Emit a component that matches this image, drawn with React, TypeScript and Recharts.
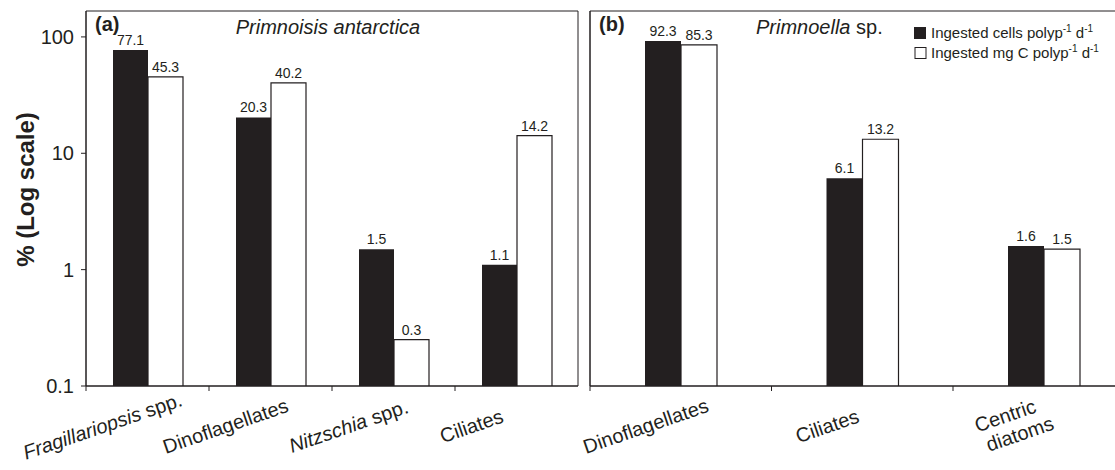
import { Bar, BarChart, LabelList, ReferenceArea, XAxis, YAxis } from "recharts";

const taxaA = ["Fragillariopsis spp.", "Dinoflagellates", "Nitzschia spp.", "Ciliates"];
const cellsA = [77.1, 20.3, 1.5, 1.1];
const carbonA = [45.3, 40.2, 0.25, 14.2];
const carbonLabelsA = ["45.3", "40.2", "0.3", "14.2"];

const taxaB = ["Dinoflagellates", "Ciliates", "Centric diatoms"];
const cellsB = [92.3, 6.1, 1.6];
const carbonB = [85.3, 13.2, 1.5];

const logTicks = [0.1, 1, 10, 100];
const yMax = 167;

const dataA = taxaA.map((taxon, i) => ({ taxon, cells: cellsA[i], carbon: carbonA[i], carbonLabel: carbonLabelsA[i] }));
const dataB = taxaB.map((taxon, i) => ({ taxon, cells: cellsB[i], carbon: carbonB[i], carbonLabel: String(carbonB[i]) }));

const FONT = "Arial, 'Liberation Sans', Helvetica, sans-serif";
const INK = "#231f20";

type TickProps = {
  x?: number;
  y?: number;
  payload?: { value: string };
  band: number;
  shift: number;
};

function TaxonName({ name }: { name: string }) {
  if (name.endsWith(" spp.")) {
    return (
      <>
        <tspan fontStyle="italic">{name.replace(" spp.", "")}</tspan>
        <tspan> spp.</tspan>
      </>
    );
  }
  return <>{name}</>;
}

function TaxonTick({ x = 0, y = 0, payload, band, shift }: TickProps) {
  const name = String(payload?.value ?? "");
  const edge = x - band / 2;
  const twoLines = name.includes("diatoms");
  return (
    <g>
      <line x1={edge} x2={edge} y1={y} y2={y + 5} stroke={INK} strokeWidth={1} />
      <g transform={`translate(${x + shift},${y + 40}) rotate(-19)`}>
        <text x={0} y={0} textAnchor="middle" fontSize={20} fill={INK} fontFamily={FONT}>
          {twoLines ? (
            <>
              <tspan x={0} dy="-0.2em">{name.split(" ")[0]}</tspan>
              <tspan x={8} dy="1.1em">{name.split(" ")[1]}</tspan>
            </>
          ) : (
            <tspan dy="0.35em">
              <TaxonName name={name} />
            </tspan>
          )}
        </text>
      </g>
    </g>
  );
}

const valueLabel = { position: "top" as const, offset: 5, fontSize: 14, fill: INK, fontFamily: FONT };

function YTitle({ viewBox }: any) {
  const cy = viewBox.y + viewBox.height / 2 - 9;
  return (
    <text
      transform={`translate(25,${cy}) rotate(-90)`}
      textAnchor="middle"
      dominantBaseline="central"
      fontSize={24}
      fontWeight="bold"
      fill={INK}
      fontFamily={FONT}
    >
      % (Log scale)
    </text>
  );
}

export default function App() {
  return (
    <div style={{ position: "absolute", left: 0, top: 0, width: 1115, height: 470, overflow: "hidden", background: "#fff" }}>
      <div style={{ position: "absolute", left: 0, top: 0 }}>
        <BarChart width={580} height={470} data={dataA} barGap={0} margin={{ top: 11, right: 2, left: 0, bottom: 0 }}>
          <XAxis
            dataKey="taxon"
            height={84}
            interval={0}
            tickLine={false}
            tickSize={0}
            tickMargin={0}
            axisLine={{ stroke: INK }}
            tick={(props: any) => <TaxonTick {...props} band={123} shift={-45} />}
          />
          <YAxis
            scale="log"
            type="number"
            domain={[0.1, yMax]}
            ticks={logTicks}
            allowDataOverflow
            width={86}
            tickSize={5}
            tickMargin={7}
            tickFormatter={(v: number) => String(v)}
            tick={{ fontSize: 20, fill: INK, fontFamily: FONT }}
            axisLine={{ stroke: INK }}
            tickLine={{ stroke: INK }}
            label={{ content: (p: any) => <YTitle {...p} /> }}
          />
          <Bar dataKey="cells" fill={INK} barSize={35} isAnimationActive={false}>
            <LabelList dataKey="cells" {...valueLabel} />
          </Bar>
          <Bar dataKey="carbon" fill="#ffffff" stroke={INK} strokeWidth={1.2} barSize={35} isAnimationActive={false}>
            <LabelList dataKey="carbonLabel" {...valueLabel} />
          </Bar>
          <ReferenceArea y1={0.1} y2={yMax} fill="none" stroke={INK} strokeWidth={1} ifOverflow="visible" />
        </BarChart>
      </div>
      <div style={{ position: "absolute", left: 578, top: 0 }}>
        <BarChart width={560} height={470} data={dataB} barGap={0} margin={{ top: 11, right: 3.5, left: 0, bottom: 0 }}>
          <XAxis
            dataKey="taxon"
            height={84}
            interval={0}
            tickLine={false}
            tickSize={0}
            tickMargin={0}
            axisLine={{ stroke: INK }}
            tick={(props: any) => <TaxonTick {...props} band={181.5} shift={-35} />}
          />
          <YAxis
            scale="log"
            type="number"
            domain={[0.1, yMax]}
            ticks={logTicks}
            allowDataOverflow
            width={12}
            tickSize={5}
            tick={false}
            axisLine={{ stroke: INK }}
            tickLine={{ stroke: INK }}
          />
          <Bar dataKey="cells" fill={INK} barSize={36} isAnimationActive={false}>
            <LabelList dataKey="cells" {...valueLabel} />
          </Bar>
          <Bar dataKey="carbon" fill="#ffffff" stroke={INK} strokeWidth={1.2} barSize={36} isAnimationActive={false}>
            <LabelList dataKey="carbonLabel" {...valueLabel} />
          </Bar>
          <ReferenceArea y1={0.1} y2={yMax} fill="none" stroke={INK} strokeWidth={1} ifOverflow="visible" />
        </BarChart>
      </div>
      <svg width={1115} height={470} style={{ position: "absolute", left: 0, top: 0, pointerEvents: "none" }} fontFamily={FONT} fill={INK}>
        <text x={95} y={31} fontSize={20} fontWeight="bold">(a)</text>
        <text x={328} y={34} fontSize={20} fontStyle="italic" textAnchor="middle">Primnoisis antarctica</text>
        <text x={599} y={31} fontSize={20} fontWeight="bold">(b)</text>
        <text x={756} y={34} fontSize={20}>
          <tspan fontStyle="italic">Primnoella</tspan> sp.
        </text>
        <rect x={914} y={27} width={12} height={12} fill={INK} />
        <text x={931} y={38} fontSize={15}>
          Ingested cells polyp<tspan fontSize={10} dy={-6}>-1</tspan>
          <tspan dy={6}> d</tspan>
          <tspan fontSize={10} dy={-6}>-1</tspan>
        </text>
        <rect x={915} y={47.5} width={11} height={11} fill="#ffffff" stroke={INK} strokeWidth={1} />
        <text x={931} y={58} fontSize={15}>
          Ingested mg C polyp<tspan fontSize={10} dy={-6}>-1</tspan>
          <tspan dy={6}> d</tspan>
          <tspan fontSize={10} dy={-6}>-1</tspan>
        </text>
      </svg>
    </div>
  );
}
